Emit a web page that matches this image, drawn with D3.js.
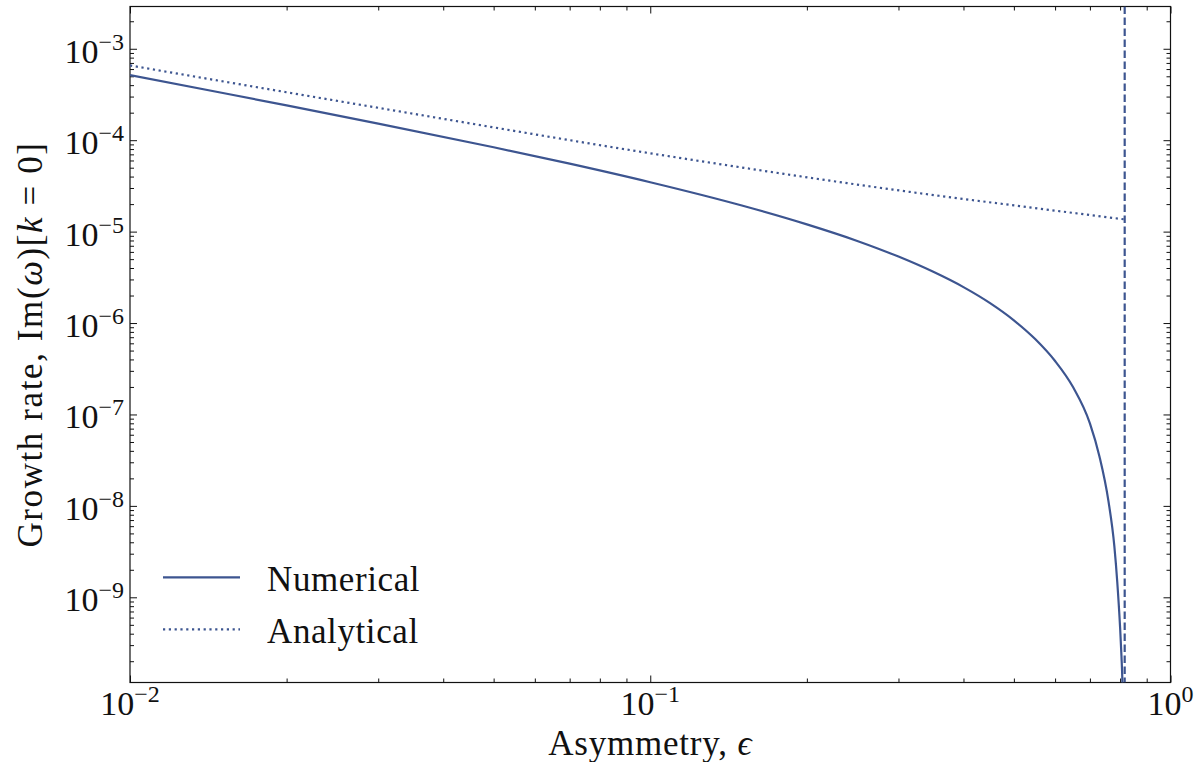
<!DOCTYPE html>
<html>
<head>
<meta charset="utf-8">
<script src="https://cdnjs.cloudflare.com/ajax/libs/d3/7.8.5/d3.min.js"></script>
<style>
  html, body { margin: 0; padding: 0; background: #ffffff; }
  svg { display: block; }
  text { font-family: "Liberation Serif", "DejaVu Serif", serif; fill: #111; }
</style>
</head>
<body>
<svg id="chart" width="1195" height="762"></svg>
<script>
// ---- Data ----
const epsNumerical    = [0.01, 0.015, 0.02, 0.03, 0.05, 0.07, 0.1, 0.15, 0.2, 0.25, 0.3, 0.35, 0.4, 0.45, 0.5, 0.55, 0.6, 0.65, 0.7, 0.73, 0.76, 0.78, 0.79, 0.80, 0.805, 0.808, 0.811];
const growthNumerical = [5.15e-4, 3.30e-4, 2.40e-4, 1.52e-4, 8.38e-5, 5.54e-5, 3.47e-5, 1.93e-5, 1.20e-5, 7.91e-6, 5.33e-6, 3.63e-6, 2.47e-6, 1.65e-6, 1.07e-6, 6.64e-7, 3.84e-7, 1.98e-7, 8.0e-8, 3.5e-8, 1.12e-8, 3.6e-9, 1.48e-9, 4.7e-10, 2.24e-10, 1.26e-10, 4e-11];
const epsAnalytical    = [0.01, 0.0316, 0.1044, 0.3155, 0.513, 0.8165];
const growthAnalytical = [6.57e-4, 2.15e-4, 6.92e-5, 2.72e-5, 1.90e-5, 1.36e-5];
const criticalEps = [0.8165];
const xTickValues = [1e-2, 1e-1, 1e0];
const xTickExponents = ["−2", "−1", "0"];
const yTickValues = [1e-9, 1e-8, 1e-7, 1e-6, 1e-5, 1e-4, 1e-3];
const yTickExponents = ["−9", "−8", "−7", "−6", "−5", "−4", "−3"];
const legendLabels = ["Numerical", "Analytical"];
const xTitle = "Asymmetry, ";
const xTitleSymbol = "ϵ";

// ---- Layout ----
const pL = 130, pR = 1170.5, pT = 6.5, pB = 682.5;
const lineColor = "#3d5590";
const svg = d3.select("#chart");

const x = d3.scaleLog().domain([1e-2, 1e0]).range([pL, pR]);
const y = d3.scaleLog().domain([1.17e-10, 2.9e-3]).range([pB, pT]);

// clip
svg.append("defs").append("clipPath").attr("id", "plotclip")
  .append("rect").attr("x", pL).attr("y", pT).attr("width", pR - pL).attr("height", pB - pT);

// minor tick values
const xMinor = [];
for (let e = -2; e < 0; e++) for (let m = 2; m <= 9; m++) xMinor.push(m * Math.pow(10, e));
const yMinor = [];
for (let e = -10; e <= -3; e++) for (let m = 2; m <= 9; m++) {
  const v = m * Math.pow(10, e);
  if (v >= 1.17e-10 && v <= 2.9e-3) yMinor.push(v);
}

function styleAxis(g) {
  g.select(".domain").remove();
  g.selectAll("line").attr("stroke", "#111").attr("stroke-width", 1);
  g.selectAll("text").remove();
}

// axes: major (length 7) and minor (length 4), inward on all four sides
svg.append("g").attr("transform", `translate(0,${pB})`)
  .call(d3.axisBottom(x).tickValues(xTickValues).tickSize(-7).tickFormat("")).call(styleAxis);
svg.append("g").attr("transform", `translate(0,${pB})`)
  .call(d3.axisBottom(x).tickValues(xMinor).tickSize(-4).tickFormat("")).call(styleAxis);
svg.append("g").attr("transform", `translate(0,${pT})`)
  .call(d3.axisTop(x).tickValues(xTickValues).tickSize(-7).tickFormat("")).call(styleAxis);
svg.append("g").attr("transform", `translate(0,${pT})`)
  .call(d3.axisTop(x).tickValues(xMinor).tickSize(-4).tickFormat("")).call(styleAxis);
svg.append("g").attr("transform", `translate(${pL},0)`)
  .call(d3.axisLeft(y).tickValues(yTickValues).tickSize(-7).tickFormat("")).call(styleAxis);
svg.append("g").attr("transform", `translate(${pL},0)`)
  .call(d3.axisLeft(y).tickValues(yMinor).tickSize(-4).tickFormat("")).call(styleAxis);
svg.append("g").attr("transform", `translate(${pR},0)`)
  .call(d3.axisRight(y).tickValues(yTickValues).tickSize(-7).tickFormat("")).call(styleAxis);
svg.append("g").attr("transform", `translate(${pR},0)`)
  .call(d3.axisRight(y).tickValues(yMinor).tickSize(-4).tickFormat("")).call(styleAxis);

// frame
svg.append("rect").attr("x", pL).attr("y", pT).attr("width", pR - pL).attr("height", pB - pT)
  .attr("fill", "none").attr("stroke", "#111").attr("stroke-width", 1.2);

// tick labels
function powerLabel(sel, exp) {
  sel.append("tspan").text("10").attr("font-size", 34);
  sel.append("tspan").text(exp).attr("font-size", 24).attr("dy", -13);
}
xTickValues.forEach((v, i) => {
  const t = svg.append("text").attr("x", x(v)).attr("y", 715).attr("text-anchor", "middle");
  powerLabel(t, xTickExponents[i]);
});
yTickValues.forEach((v, i) => {
  const t = svg.append("text").attr("x", 124).attr("y", y(v) + 14).attr("text-anchor", "end");
  powerLabel(t, yTickExponents[i]);
});

// curves
const plot = svg.append("g").attr("clip-path", "url(#plotclip)");
const line = d3.line().x(d => x(d[0])).y(d => y(d[1])).curve(d3.curveMonotoneX);

plot.append("path")
  .datum(epsNumerical.map((e, i) => [e, growthNumerical[i]]))
  .attr("d", line).attr("fill", "none").attr("stroke", lineColor).attr("stroke-width", 2.2);

plot.append("path")
  .datum(epsAnalytical.map((e, i) => [e, growthAnalytical[i]]))
  .attr("d", line).attr("fill", "none").attr("stroke", lineColor).attr("stroke-width", 2.2)
  .attr("stroke-dasharray", "2.2,3.6");

plot.selectAll("line.crit").data(criticalEps).enter().append("line")
  .attr("class", "crit")
  .attr("x1", d => x(d)).attr("x2", d => x(d))
  .attr("y1", pT).attr("y2", pB)
  .attr("stroke", lineColor).attr("stroke-width", 2.2).attr("stroke-dasharray", "7.5,3.5");

// legend
const legendY = [577.3, 629.3];
legendLabels.forEach((lab, i) => {
  svg.append("line").attr("x1", 163).attr("x2", 240).attr("y1", legendY[i]).attr("y2", legendY[i])
    .attr("stroke", lineColor).attr("stroke-width", 2.2)
    .attr("stroke-dasharray", i === 1 ? "2.2,3.6" : null);
  svg.append("text").attr("x", 267).attr("y", legendY[i] + 13.5).attr("font-size", 35)
    .attr("letter-spacing", 0.6).text(lab);
});

// axis titles
const xt = svg.append("text").attr("x", (pL + pR) / 2).attr("y", 755)
  .attr("text-anchor", "middle").attr("font-size", 35).attr("letter-spacing", 0.8);
xt.append("tspan").text(xTitle);
xt.append("tspan").text(xTitleSymbol).attr("font-style", "italic");

const yt = svg.append("text").attr("transform", `translate(42,${(pT + pB) / 2}) rotate(-90)`)
  .attr("text-anchor", "middle").attr("font-size", 35).attr("letter-spacing", 1.6);
yt.append("tspan").text("Growth rate, Im(");
yt.append("tspan").text("ω").attr("font-style", "italic");
yt.append("tspan").text(")[");
yt.append("tspan").text("k").attr("font-style", "italic");
yt.append("tspan").text(" = 0]");
</script>
</body>
</html>
